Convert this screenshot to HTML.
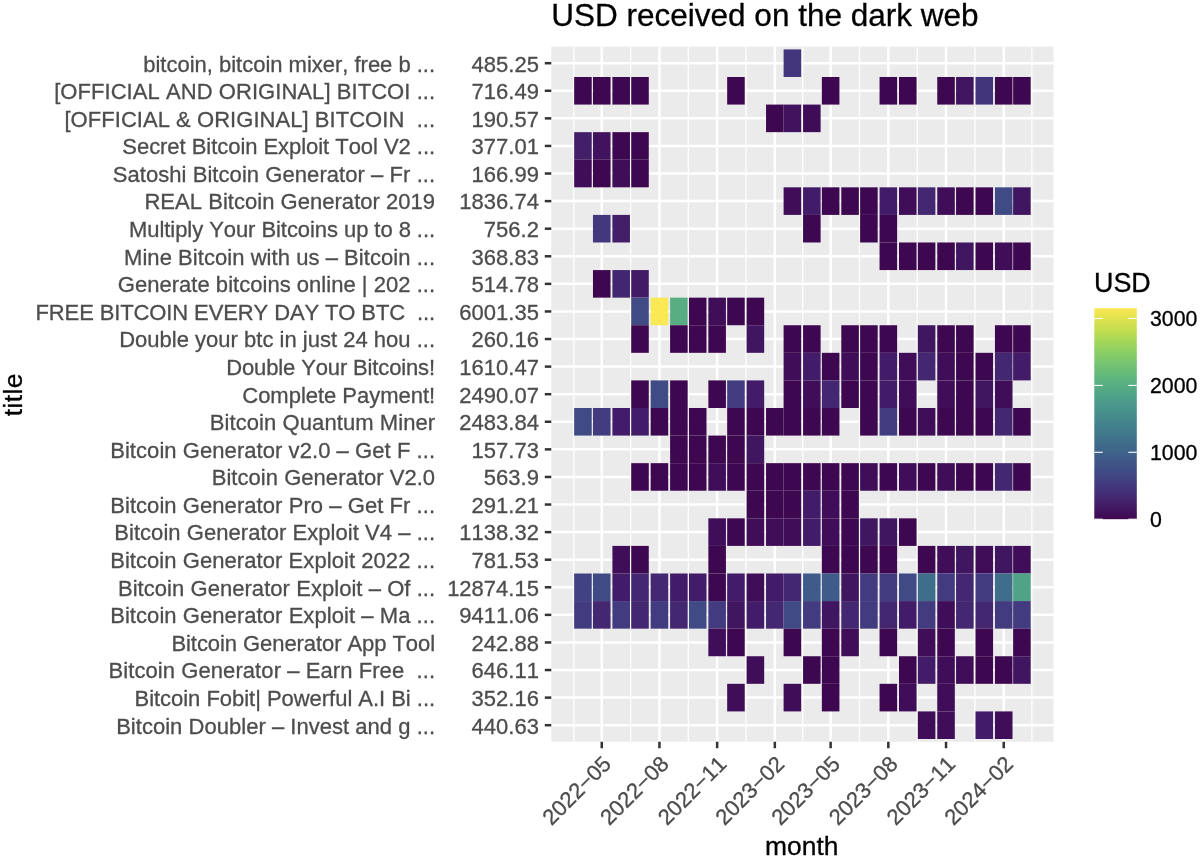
<!DOCTYPE html><html><head><meta charset="utf-8"><title>USD received on the dark web</title>
<style>html,body{margin:0;padding:0;background:#fff}svg{display:block}text{font-family:"Liberation Sans",sans-serif;font-kerning:none;stroke-width:0.3px}</style></head><body>
<svg width="1200" height="859" viewBox="0 0 1200 859">
<rect width="1200" height="859" fill="#fff"/>
<rect x="551.3" y="46.65" width="502.20" height="695.10" fill="#ebebeb"/>
<g stroke="#fff" fill="none">
<line x1="573.84" x2="573.84" y1="46.65" y2="741.75" stroke-width="1.25"/>
<line x1="630.60" x2="630.60" y1="46.65" y2="741.75" stroke-width="1.25"/>
<line x1="688.29" x2="688.29" y1="46.65" y2="741.75" stroke-width="1.25"/>
<line x1="745.98" x2="745.98" y1="46.65" y2="741.75" stroke-width="1.25"/>
<line x1="802.74" x2="802.74" y1="46.65" y2="741.75" stroke-width="1.25"/>
<line x1="859.49" x2="859.49" y1="46.65" y2="741.75" stroke-width="1.25"/>
<line x1="917.18" x2="917.18" y1="46.65" y2="741.75" stroke-width="1.25"/>
<line x1="974.87" x2="974.87" y1="46.65" y2="741.75" stroke-width="1.25"/>
<line x1="1031.94" x2="1031.94" y1="46.65" y2="741.75" stroke-width="1.25"/>
<line x1="601.75" x2="601.75" y1="46.65" y2="741.75" stroke-width="2.5"/>
<line x1="659.44" x2="659.44" y1="46.65" y2="741.75" stroke-width="2.5"/>
<line x1="717.14" x2="717.14" y1="46.65" y2="741.75" stroke-width="2.5"/>
<line x1="774.83" x2="774.83" y1="46.65" y2="741.75" stroke-width="2.5"/>
<line x1="830.64" x2="830.64" y1="46.65" y2="741.75" stroke-width="2.5"/>
<line x1="888.33" x2="888.33" y1="46.65" y2="741.75" stroke-width="2.5"/>
<line x1="946.03" x2="946.03" y1="46.65" y2="741.75" stroke-width="2.5"/>
<line x1="1003.72" x2="1003.72" y1="46.65" y2="741.75" stroke-width="2.5"/>
<line x1="551.3" x2="1053.5" y1="63.20" y2="63.20" stroke-width="2.5"/>
<line x1="551.3" x2="1053.5" y1="90.78" y2="90.78" stroke-width="2.5"/>
<line x1="551.3" x2="1053.5" y1="118.37" y2="118.37" stroke-width="2.5"/>
<line x1="551.3" x2="1053.5" y1="145.95" y2="145.95" stroke-width="2.5"/>
<line x1="551.3" x2="1053.5" y1="173.53" y2="173.53" stroke-width="2.5"/>
<line x1="551.3" x2="1053.5" y1="201.12" y2="201.12" stroke-width="2.5"/>
<line x1="551.3" x2="1053.5" y1="228.70" y2="228.70" stroke-width="2.5"/>
<line x1="551.3" x2="1053.5" y1="256.28" y2="256.28" stroke-width="2.5"/>
<line x1="551.3" x2="1053.5" y1="283.87" y2="283.87" stroke-width="2.5"/>
<line x1="551.3" x2="1053.5" y1="311.45" y2="311.45" stroke-width="2.5"/>
<line x1="551.3" x2="1053.5" y1="339.03" y2="339.03" stroke-width="2.5"/>
<line x1="551.3" x2="1053.5" y1="366.62" y2="366.62" stroke-width="2.5"/>
<line x1="551.3" x2="1053.5" y1="394.20" y2="394.20" stroke-width="2.5"/>
<line x1="551.3" x2="1053.5" y1="421.78" y2="421.78" stroke-width="2.5"/>
<line x1="551.3" x2="1053.5" y1="449.37" y2="449.37" stroke-width="2.5"/>
<line x1="551.3" x2="1053.5" y1="476.95" y2="476.95" stroke-width="2.5"/>
<line x1="551.3" x2="1053.5" y1="504.53" y2="504.53" stroke-width="2.5"/>
<line x1="551.3" x2="1053.5" y1="532.12" y2="532.12" stroke-width="2.5"/>
<line x1="551.3" x2="1053.5" y1="559.70" y2="559.70" stroke-width="2.5"/>
<line x1="551.3" x2="1053.5" y1="587.28" y2="587.28" stroke-width="2.5"/>
<line x1="551.3" x2="1053.5" y1="614.87" y2="614.87" stroke-width="2.5"/>
<line x1="551.3" x2="1053.5" y1="642.45" y2="642.45" stroke-width="2.5"/>
<line x1="551.3" x2="1053.5" y1="670.03" y2="670.03" stroke-width="2.5"/>
<line x1="551.3" x2="1053.5" y1="697.62" y2="697.62" stroke-width="2.5"/>
<line x1="551.3" x2="1053.5" y1="725.20" y2="725.20" stroke-width="2.5"/>
</g>
<g shape-rendering="auto">
<rect x="783.61" y="49.41" width="17.56" height="27.58" fill="#43367c"/>
<rect x="574.16" y="76.99" width="17.56" height="27.58" fill="#3e0851"/>
<rect x="592.97" y="76.99" width="17.56" height="27.58" fill="#3e0851"/>
<rect x="612.41" y="76.99" width="17.56" height="27.58" fill="#3e0851"/>
<rect x="631.22" y="76.99" width="17.56" height="27.58" fill="#3e0851"/>
<rect x="727.17" y="76.99" width="17.56" height="27.58" fill="#3e0851"/>
<rect x="821.86" y="76.99" width="17.56" height="27.58" fill="#3e0851"/>
<rect x="879.56" y="76.99" width="17.56" height="27.58" fill="#3e0851"/>
<rect x="899.00" y="76.99" width="17.56" height="27.58" fill="#3e0851"/>
<rect x="937.25" y="76.99" width="17.56" height="27.58" fill="#3e0851"/>
<rect x="956.06" y="76.99" width="17.56" height="27.58" fill="#41145f"/>
<rect x="975.50" y="76.99" width="17.56" height="27.58" fill="#43357c"/>
<rect x="994.94" y="76.99" width="17.56" height="27.58" fill="#3e0851"/>
<rect x="1013.13" y="76.99" width="17.56" height="27.58" fill="#3e0851"/>
<rect x="766.05" y="104.58" width="17.56" height="27.58" fill="#3e0851"/>
<rect x="783.61" y="104.58" width="17.56" height="27.58" fill="#41135e"/>
<rect x="803.05" y="104.58" width="17.56" height="27.58" fill="#3f0d57"/>
<rect x="574.16" y="132.16" width="17.56" height="27.58" fill="#431f6a"/>
<rect x="592.97" y="132.16" width="17.56" height="27.58" fill="#41135e"/>
<rect x="612.41" y="132.16" width="17.56" height="27.58" fill="#3e0851"/>
<rect x="631.22" y="132.16" width="17.56" height="27.58" fill="#3e0851"/>
<rect x="574.16" y="159.74" width="17.56" height="27.58" fill="#400e58"/>
<rect x="592.97" y="159.74" width="17.56" height="27.58" fill="#3e0851"/>
<rect x="612.41" y="159.74" width="17.56" height="27.58" fill="#400e58"/>
<rect x="631.22" y="159.74" width="17.56" height="27.58" fill="#3e0851"/>
<rect x="783.61" y="187.33" width="17.56" height="27.58" fill="#400e58"/>
<rect x="803.05" y="187.33" width="17.56" height="27.58" fill="#421c68"/>
<rect x="821.86" y="187.33" width="17.56" height="27.58" fill="#3e0851"/>
<rect x="841.30" y="187.33" width="17.56" height="27.58" fill="#3e0851"/>
<rect x="860.12" y="187.33" width="17.56" height="27.58" fill="#3e0851"/>
<rect x="879.56" y="187.33" width="17.56" height="27.58" fill="#421c68"/>
<rect x="899.00" y="187.33" width="17.56" height="27.58" fill="#400e58"/>
<rect x="917.81" y="187.33" width="17.56" height="27.58" fill="#432771"/>
<rect x="937.25" y="187.33" width="17.56" height="27.58" fill="#400e58"/>
<rect x="956.06" y="187.33" width="17.56" height="27.58" fill="#3e0851"/>
<rect x="975.50" y="187.33" width="17.56" height="27.58" fill="#3e0851"/>
<rect x="994.94" y="187.33" width="17.56" height="27.58" fill="#404b85"/>
<rect x="1013.13" y="187.33" width="17.56" height="27.58" fill="#411661"/>
<rect x="592.97" y="214.91" width="17.56" height="27.58" fill="#43377d"/>
<rect x="612.41" y="214.91" width="17.56" height="27.58" fill="#431e69"/>
<rect x="803.05" y="214.91" width="17.56" height="27.58" fill="#3e0851"/>
<rect x="860.12" y="214.91" width="17.56" height="27.58" fill="#3e0851"/>
<rect x="879.56" y="214.91" width="17.56" height="27.58" fill="#3e0851"/>
<rect x="879.56" y="242.49" width="17.56" height="27.58" fill="#3e0851"/>
<rect x="899.00" y="242.49" width="17.56" height="27.58" fill="#3e0851"/>
<rect x="917.81" y="242.49" width="17.56" height="27.58" fill="#3e0851"/>
<rect x="937.25" y="242.49" width="17.56" height="27.58" fill="#3e0851"/>
<rect x="956.06" y="242.49" width="17.56" height="27.58" fill="#411661"/>
<rect x="975.50" y="242.49" width="17.56" height="27.58" fill="#3e0851"/>
<rect x="994.94" y="242.49" width="17.56" height="27.58" fill="#400e58"/>
<rect x="1013.13" y="242.49" width="17.56" height="27.58" fill="#3e0851"/>
<rect x="592.97" y="270.07" width="17.56" height="27.58" fill="#3e0851"/>
<rect x="612.41" y="270.07" width="17.56" height="27.58" fill="#432670"/>
<rect x="631.22" y="270.07" width="17.56" height="27.58" fill="#421a65"/>
<rect x="631.22" y="297.66" width="17.56" height="27.58" fill="#404b85"/>
<rect x="650.66" y="297.66" width="17.56" height="27.58" fill="#fae855"/>
<rect x="670.10" y="297.66" width="17.56" height="27.58" fill="#58ae82"/>
<rect x="688.92" y="297.66" width="17.56" height="27.58" fill="#3e0851"/>
<rect x="708.36" y="297.66" width="17.56" height="27.58" fill="#400e58"/>
<rect x="727.17" y="297.66" width="17.56" height="27.58" fill="#3e0851"/>
<rect x="746.61" y="297.66" width="17.56" height="27.58" fill="#3e0851"/>
<rect x="631.22" y="325.24" width="17.56" height="27.58" fill="#3e0851"/>
<rect x="670.10" y="325.24" width="17.56" height="27.58" fill="#3e0851"/>
<rect x="688.92" y="325.24" width="17.56" height="27.58" fill="#3e0851"/>
<rect x="708.36" y="325.24" width="17.56" height="27.58" fill="#3e0851"/>
<rect x="746.61" y="325.24" width="17.56" height="27.58" fill="#411661"/>
<rect x="783.61" y="325.24" width="17.56" height="27.58" fill="#3e0851"/>
<rect x="803.05" y="325.24" width="17.56" height="27.58" fill="#3e0851"/>
<rect x="841.30" y="325.24" width="17.56" height="27.58" fill="#3e0851"/>
<rect x="860.12" y="325.24" width="17.56" height="27.58" fill="#3e0851"/>
<rect x="879.56" y="325.24" width="17.56" height="27.58" fill="#3e0851"/>
<rect x="917.81" y="325.24" width="17.56" height="27.58" fill="#411661"/>
<rect x="937.25" y="325.24" width="17.56" height="27.58" fill="#3e0851"/>
<rect x="956.06" y="325.24" width="17.56" height="27.58" fill="#3e0851"/>
<rect x="994.94" y="325.24" width="17.56" height="27.58" fill="#3e0851"/>
<rect x="1013.13" y="325.24" width="17.56" height="27.58" fill="#3e0851"/>
<rect x="783.61" y="352.82" width="17.56" height="27.58" fill="#400e58"/>
<rect x="803.05" y="352.82" width="17.56" height="27.58" fill="#421c68"/>
<rect x="821.86" y="352.82" width="17.56" height="27.58" fill="#3e0851"/>
<rect x="841.30" y="352.82" width="17.56" height="27.58" fill="#400e58"/>
<rect x="860.12" y="352.82" width="17.56" height="27.58" fill="#3e0851"/>
<rect x="879.56" y="352.82" width="17.56" height="27.58" fill="#421c68"/>
<rect x="899.00" y="352.82" width="17.56" height="27.58" fill="#400e58"/>
<rect x="917.81" y="352.82" width="17.56" height="27.58" fill="#432771"/>
<rect x="937.25" y="352.82" width="17.56" height="27.58" fill="#400e58"/>
<rect x="956.06" y="352.82" width="17.56" height="27.58" fill="#3e0851"/>
<rect x="975.50" y="352.82" width="17.56" height="27.58" fill="#3e0851"/>
<rect x="994.94" y="352.82" width="17.56" height="27.58" fill="#432771"/>
<rect x="1013.13" y="352.82" width="17.56" height="27.58" fill="#421c68"/>
<rect x="631.22" y="380.41" width="17.56" height="27.58" fill="#3e0851"/>
<rect x="650.66" y="380.41" width="17.56" height="27.58" fill="#404b85"/>
<rect x="670.10" y="380.41" width="17.56" height="27.58" fill="#3e0851"/>
<rect x="708.36" y="380.41" width="17.56" height="27.58" fill="#3e0851"/>
<rect x="727.17" y="380.41" width="17.56" height="27.58" fill="#423b7f"/>
<rect x="746.61" y="380.41" width="17.56" height="27.58" fill="#421c68"/>
<rect x="783.61" y="380.41" width="17.56" height="27.58" fill="#3e0851"/>
<rect x="803.05" y="380.41" width="17.56" height="27.58" fill="#400e58"/>
<rect x="821.86" y="380.41" width="17.56" height="27.58" fill="#432771"/>
<rect x="841.30" y="380.41" width="17.56" height="27.58" fill="#3e0851"/>
<rect x="860.12" y="380.41" width="17.56" height="27.58" fill="#3e0851"/>
<rect x="879.56" y="380.41" width="17.56" height="27.58" fill="#421c68"/>
<rect x="899.00" y="380.41" width="17.56" height="27.58" fill="#400e58"/>
<rect x="937.25" y="380.41" width="17.56" height="27.58" fill="#400e58"/>
<rect x="956.06" y="380.41" width="17.56" height="27.58" fill="#3e0851"/>
<rect x="975.50" y="380.41" width="17.56" height="27.58" fill="#411661"/>
<rect x="994.94" y="380.41" width="17.56" height="27.58" fill="#400e58"/>
<rect x="574.16" y="407.99" width="17.56" height="27.58" fill="#404b85"/>
<rect x="592.97" y="407.99" width="17.56" height="27.58" fill="#423b7f"/>
<rect x="612.41" y="407.99" width="17.56" height="27.58" fill="#421c68"/>
<rect x="631.22" y="407.99" width="17.56" height="27.58" fill="#421c68"/>
<rect x="650.66" y="407.99" width="17.56" height="27.58" fill="#3e0851"/>
<rect x="670.10" y="407.99" width="17.56" height="27.58" fill="#3e0851"/>
<rect x="688.92" y="407.99" width="17.56" height="27.58" fill="#3e0851"/>
<rect x="727.17" y="407.99" width="17.56" height="27.58" fill="#3e0851"/>
<rect x="746.61" y="407.99" width="17.56" height="27.58" fill="#3e0851"/>
<rect x="766.05" y="407.99" width="17.56" height="27.58" fill="#3e0851"/>
<rect x="783.61" y="407.99" width="17.56" height="27.58" fill="#3e0851"/>
<rect x="803.05" y="407.99" width="17.56" height="27.58" fill="#3e0851"/>
<rect x="821.86" y="407.99" width="17.56" height="27.58" fill="#3e0851"/>
<rect x="860.12" y="407.99" width="17.56" height="27.58" fill="#3e0851"/>
<rect x="879.56" y="407.99" width="17.56" height="27.58" fill="#423b7f"/>
<rect x="899.00" y="407.99" width="17.56" height="27.58" fill="#3e0851"/>
<rect x="917.81" y="407.99" width="17.56" height="27.58" fill="#400e58"/>
<rect x="937.25" y="407.99" width="17.56" height="27.58" fill="#3e0851"/>
<rect x="956.06" y="407.99" width="17.56" height="27.58" fill="#3e0851"/>
<rect x="975.50" y="407.99" width="17.56" height="27.58" fill="#3e0851"/>
<rect x="994.94" y="407.99" width="17.56" height="27.58" fill="#432771"/>
<rect x="1013.13" y="407.99" width="17.56" height="27.58" fill="#3e0851"/>
<rect x="670.10" y="435.57" width="17.56" height="27.58" fill="#3e0851"/>
<rect x="688.92" y="435.57" width="17.56" height="27.58" fill="#3e0851"/>
<rect x="708.36" y="435.57" width="17.56" height="27.58" fill="#3e0851"/>
<rect x="727.17" y="435.57" width="17.56" height="27.58" fill="#3e0851"/>
<rect x="746.61" y="435.57" width="17.56" height="27.58" fill="#411661"/>
<rect x="631.22" y="463.16" width="17.56" height="27.58" fill="#3e0851"/>
<rect x="650.66" y="463.16" width="17.56" height="27.58" fill="#3e0851"/>
<rect x="670.10" y="463.16" width="17.56" height="27.58" fill="#3e0851"/>
<rect x="688.92" y="463.16" width="17.56" height="27.58" fill="#3e0851"/>
<rect x="708.36" y="463.16" width="17.56" height="27.58" fill="#400e58"/>
<rect x="727.17" y="463.16" width="17.56" height="27.58" fill="#3e0851"/>
<rect x="746.61" y="463.16" width="17.56" height="27.58" fill="#3e0851"/>
<rect x="766.05" y="463.16" width="17.56" height="27.58" fill="#3e0851"/>
<rect x="783.61" y="463.16" width="17.56" height="27.58" fill="#3e0851"/>
<rect x="803.05" y="463.16" width="17.56" height="27.58" fill="#3e0851"/>
<rect x="821.86" y="463.16" width="17.56" height="27.58" fill="#3e0851"/>
<rect x="841.30" y="463.16" width="17.56" height="27.58" fill="#3e0851"/>
<rect x="860.12" y="463.16" width="17.56" height="27.58" fill="#400e58"/>
<rect x="879.56" y="463.16" width="17.56" height="27.58" fill="#3e0851"/>
<rect x="899.00" y="463.16" width="17.56" height="27.58" fill="#400e58"/>
<rect x="917.81" y="463.16" width="17.56" height="27.58" fill="#3e0851"/>
<rect x="937.25" y="463.16" width="17.56" height="27.58" fill="#400e58"/>
<rect x="956.06" y="463.16" width="17.56" height="27.58" fill="#3e0851"/>
<rect x="975.50" y="463.16" width="17.56" height="27.58" fill="#3e0851"/>
<rect x="994.94" y="463.16" width="17.56" height="27.58" fill="#432771"/>
<rect x="1013.13" y="463.16" width="17.56" height="27.58" fill="#3e0851"/>
<rect x="746.61" y="490.74" width="17.56" height="27.58" fill="#3e0851"/>
<rect x="766.05" y="490.74" width="17.56" height="27.58" fill="#3e0851"/>
<rect x="783.61" y="490.74" width="17.56" height="27.58" fill="#3e0851"/>
<rect x="803.05" y="490.74" width="17.56" height="27.58" fill="#421c68"/>
<rect x="821.86" y="490.74" width="17.56" height="27.58" fill="#400e58"/>
<rect x="841.30" y="490.74" width="17.56" height="27.58" fill="#3e0851"/>
<rect x="708.36" y="518.33" width="17.56" height="27.58" fill="#400e58"/>
<rect x="727.17" y="518.33" width="17.56" height="27.58" fill="#3e0851"/>
<rect x="746.61" y="518.33" width="17.56" height="27.58" fill="#400e58"/>
<rect x="766.05" y="518.33" width="17.56" height="27.58" fill="#400e58"/>
<rect x="783.61" y="518.33" width="17.56" height="27.58" fill="#400e58"/>
<rect x="803.05" y="518.33" width="17.56" height="27.58" fill="#421c68"/>
<rect x="821.86" y="518.33" width="17.56" height="27.58" fill="#400e58"/>
<rect x="841.30" y="518.33" width="17.56" height="27.58" fill="#3e0851"/>
<rect x="860.12" y="518.33" width="17.56" height="27.58" fill="#411661"/>
<rect x="879.56" y="518.33" width="17.56" height="27.58" fill="#411661"/>
<rect x="899.00" y="518.33" width="17.56" height="27.58" fill="#3e0851"/>
<rect x="612.41" y="545.91" width="17.56" height="27.58" fill="#400e58"/>
<rect x="631.22" y="545.91" width="17.56" height="27.58" fill="#3e0851"/>
<rect x="708.36" y="545.91" width="17.56" height="27.58" fill="#3e0851"/>
<rect x="821.86" y="545.91" width="17.56" height="27.58" fill="#3e0851"/>
<rect x="841.30" y="545.91" width="17.56" height="27.58" fill="#3e0851"/>
<rect x="860.12" y="545.91" width="17.56" height="27.58" fill="#3e0851"/>
<rect x="879.56" y="545.91" width="17.56" height="27.58" fill="#3e0851"/>
<rect x="917.81" y="545.91" width="17.56" height="27.58" fill="#3e0851"/>
<rect x="937.25" y="545.91" width="17.56" height="27.58" fill="#400e58"/>
<rect x="956.06" y="545.91" width="17.56" height="27.58" fill="#411661"/>
<rect x="975.50" y="545.91" width="17.56" height="27.58" fill="#400e58"/>
<rect x="994.94" y="545.91" width="17.56" height="27.58" fill="#411661"/>
<rect x="1013.13" y="545.91" width="17.56" height="27.58" fill="#400e58"/>
<rect x="574.16" y="573.49" width="17.56" height="27.58" fill="#414282"/>
<rect x="592.97" y="573.49" width="17.56" height="27.58" fill="#404b85"/>
<rect x="612.41" y="573.49" width="17.56" height="27.58" fill="#421c68"/>
<rect x="631.22" y="573.49" width="17.56" height="27.58" fill="#432771"/>
<rect x="650.66" y="573.49" width="17.56" height="27.58" fill="#432771"/>
<rect x="670.10" y="573.49" width="17.56" height="27.58" fill="#421c68"/>
<rect x="688.92" y="573.49" width="17.56" height="27.58" fill="#421c68"/>
<rect x="708.36" y="573.49" width="17.56" height="27.58" fill="#3e0851"/>
<rect x="727.17" y="573.49" width="17.56" height="27.58" fill="#421c68"/>
<rect x="746.61" y="573.49" width="17.56" height="27.58" fill="#400e58"/>
<rect x="766.05" y="573.49" width="17.56" height="27.58" fill="#421c68"/>
<rect x="783.61" y="573.49" width="17.56" height="27.58" fill="#432771"/>
<rect x="803.05" y="573.49" width="17.56" height="27.58" fill="#3f5b89"/>
<rect x="821.86" y="573.49" width="17.56" height="27.58" fill="#3f5b89"/>
<rect x="841.30" y="573.49" width="17.56" height="27.58" fill="#411661"/>
<rect x="860.12" y="573.49" width="17.56" height="27.58" fill="#423b7f"/>
<rect x="879.56" y="573.49" width="17.56" height="27.58" fill="#423b7f"/>
<rect x="899.00" y="573.49" width="17.56" height="27.58" fill="#404b85"/>
<rect x="917.81" y="573.49" width="17.56" height="27.58" fill="#3f6e8b"/>
<rect x="937.25" y="573.49" width="17.56" height="27.58" fill="#423b7f"/>
<rect x="956.06" y="573.49" width="17.56" height="27.58" fill="#432771"/>
<rect x="975.50" y="573.49" width="17.56" height="27.58" fill="#423b7f"/>
<rect x="994.94" y="573.49" width="17.56" height="27.58" fill="#3f6e8b"/>
<rect x="1013.13" y="573.49" width="17.56" height="27.58" fill="#50a387"/>
<rect x="574.16" y="601.08" width="17.56" height="27.58" fill="#423b7f"/>
<rect x="592.97" y="601.08" width="17.56" height="27.58" fill="#432771"/>
<rect x="612.41" y="601.08" width="17.56" height="27.58" fill="#423b7f"/>
<rect x="631.22" y="601.08" width="17.56" height="27.58" fill="#432771"/>
<rect x="650.66" y="601.08" width="17.56" height="27.58" fill="#423b7f"/>
<rect x="670.10" y="601.08" width="17.56" height="27.58" fill="#432771"/>
<rect x="688.92" y="601.08" width="17.56" height="27.58" fill="#404b85"/>
<rect x="708.36" y="601.08" width="17.56" height="27.58" fill="#423b7f"/>
<rect x="727.17" y="601.08" width="17.56" height="27.58" fill="#411661"/>
<rect x="746.61" y="601.08" width="17.56" height="27.58" fill="#421c68"/>
<rect x="766.05" y="601.08" width="17.56" height="27.58" fill="#432771"/>
<rect x="783.61" y="601.08" width="17.56" height="27.58" fill="#404b85"/>
<rect x="803.05" y="601.08" width="17.56" height="27.58" fill="#423b7f"/>
<rect x="821.86" y="601.08" width="17.56" height="27.58" fill="#411661"/>
<rect x="841.30" y="601.08" width="17.56" height="27.58" fill="#432771"/>
<rect x="860.12" y="601.08" width="17.56" height="27.58" fill="#423b7f"/>
<rect x="879.56" y="601.08" width="17.56" height="27.58" fill="#432771"/>
<rect x="899.00" y="601.08" width="17.56" height="27.58" fill="#421c68"/>
<rect x="917.81" y="601.08" width="17.56" height="27.58" fill="#423b7f"/>
<rect x="937.25" y="601.08" width="17.56" height="27.58" fill="#400e58"/>
<rect x="956.06" y="601.08" width="17.56" height="27.58" fill="#432771"/>
<rect x="975.50" y="601.08" width="17.56" height="27.58" fill="#432771"/>
<rect x="994.94" y="601.08" width="17.56" height="27.58" fill="#423b7f"/>
<rect x="1013.13" y="601.08" width="17.56" height="27.58" fill="#423b7f"/>
<rect x="708.36" y="628.66" width="17.56" height="27.58" fill="#400e58"/>
<rect x="727.17" y="628.66" width="17.56" height="27.58" fill="#3e0851"/>
<rect x="783.61" y="628.66" width="17.56" height="27.58" fill="#3e0851"/>
<rect x="821.86" y="628.66" width="17.56" height="27.58" fill="#3e0851"/>
<rect x="841.30" y="628.66" width="17.56" height="27.58" fill="#400e58"/>
<rect x="879.56" y="628.66" width="17.56" height="27.58" fill="#3e0851"/>
<rect x="917.81" y="628.66" width="17.56" height="27.58" fill="#400e58"/>
<rect x="937.25" y="628.66" width="17.56" height="27.58" fill="#3e0851"/>
<rect x="975.50" y="628.66" width="17.56" height="27.58" fill="#3e0851"/>
<rect x="1013.13" y="628.66" width="17.56" height="27.58" fill="#3e0851"/>
<rect x="746.61" y="656.24" width="17.56" height="27.58" fill="#400e58"/>
<rect x="803.05" y="656.24" width="17.56" height="27.58" fill="#3e0851"/>
<rect x="821.86" y="656.24" width="17.56" height="27.58" fill="#3e0851"/>
<rect x="899.00" y="656.24" width="17.56" height="27.58" fill="#3e0851"/>
<rect x="917.81" y="656.24" width="17.56" height="27.58" fill="#421c68"/>
<rect x="937.25" y="656.24" width="17.56" height="27.58" fill="#400e58"/>
<rect x="956.06" y="656.24" width="17.56" height="27.58" fill="#400e58"/>
<rect x="975.50" y="656.24" width="17.56" height="27.58" fill="#3e0851"/>
<rect x="994.94" y="656.24" width="17.56" height="27.58" fill="#3e0851"/>
<rect x="1013.13" y="656.24" width="17.56" height="27.58" fill="#411661"/>
<rect x="727.17" y="683.83" width="17.56" height="27.58" fill="#400e58"/>
<rect x="783.61" y="683.83" width="17.56" height="27.58" fill="#400e58"/>
<rect x="821.86" y="683.83" width="17.56" height="27.58" fill="#3e0851"/>
<rect x="879.56" y="683.83" width="17.56" height="27.58" fill="#3e0851"/>
<rect x="899.00" y="683.83" width="17.56" height="27.58" fill="#400e58"/>
<rect x="937.25" y="683.83" width="17.56" height="27.58" fill="#400e58"/>
<rect x="917.81" y="711.41" width="17.56" height="27.58" fill="#400e58"/>
<rect x="937.25" y="711.41" width="17.56" height="27.58" fill="#400e58"/>
<rect x="975.50" y="711.41" width="17.56" height="27.58" fill="#421c68"/>
<rect x="994.94" y="711.41" width="17.56" height="27.58" fill="#400e58"/>
</g>
<g stroke="#333" stroke-width="2.5">
<line x1="544.80" x2="551.3" y1="63.20" y2="63.20"/>
<line x1="544.80" x2="551.3" y1="90.78" y2="90.78"/>
<line x1="544.80" x2="551.3" y1="118.37" y2="118.37"/>
<line x1="544.80" x2="551.3" y1="145.95" y2="145.95"/>
<line x1="544.80" x2="551.3" y1="173.53" y2="173.53"/>
<line x1="544.80" x2="551.3" y1="201.12" y2="201.12"/>
<line x1="544.80" x2="551.3" y1="228.70" y2="228.70"/>
<line x1="544.80" x2="551.3" y1="256.28" y2="256.28"/>
<line x1="544.80" x2="551.3" y1="283.87" y2="283.87"/>
<line x1="544.80" x2="551.3" y1="311.45" y2="311.45"/>
<line x1="544.80" x2="551.3" y1="339.03" y2="339.03"/>
<line x1="544.80" x2="551.3" y1="366.62" y2="366.62"/>
<line x1="544.80" x2="551.3" y1="394.20" y2="394.20"/>
<line x1="544.80" x2="551.3" y1="421.78" y2="421.78"/>
<line x1="544.80" x2="551.3" y1="449.37" y2="449.37"/>
<line x1="544.80" x2="551.3" y1="476.95" y2="476.95"/>
<line x1="544.80" x2="551.3" y1="504.53" y2="504.53"/>
<line x1="544.80" x2="551.3" y1="532.12" y2="532.12"/>
<line x1="544.80" x2="551.3" y1="559.70" y2="559.70"/>
<line x1="544.80" x2="551.3" y1="587.28" y2="587.28"/>
<line x1="544.80" x2="551.3" y1="614.87" y2="614.87"/>
<line x1="544.80" x2="551.3" y1="642.45" y2="642.45"/>
<line x1="544.80" x2="551.3" y1="670.03" y2="670.03"/>
<line x1="544.80" x2="551.3" y1="697.62" y2="697.62"/>
<line x1="544.80" x2="551.3" y1="725.20" y2="725.20"/>
<line x1="601.75" x2="601.75" y1="741.75" y2="748.25"/>
<line x1="659.44" x2="659.44" y1="741.75" y2="748.25"/>
<line x1="717.14" x2="717.14" y1="741.75" y2="748.25"/>
<line x1="774.83" x2="774.83" y1="741.75" y2="748.25"/>
<line x1="830.64" x2="830.64" y1="741.75" y2="748.25"/>
<line x1="888.33" x2="888.33" y1="741.75" y2="748.25"/>
<line x1="946.03" x2="946.03" y1="741.75" y2="748.25"/>
<line x1="1003.72" x2="1003.72" y1="741.75" y2="748.25"/>
</g>
<g font-size="22" fill="#4d4d4d" stroke="#4d4d4d" text-anchor="end">
<text class="yl" x="435.1" y="71.50" textLength="291.83" lengthAdjust="spacing" xml:space="preserve">bitcoin, bitcoin mixer, free b ...</text>
<text x="538.9" y="71.50">485.25</text>
<text class="yl" x="435.1" y="99.08" textLength="380.95" lengthAdjust="spacing" xml:space="preserve">[OFFICIAL AND ORIGINAL] BITCOI ...</text>
<text x="538.9" y="99.08">716.49</text>
<text class="yl" x="435.1" y="126.67" textLength="370.67" lengthAdjust="spacing" xml:space="preserve">[OFFICIAL &amp; ORIGINAL] BITCOIN  ...</text>
<text x="538.9" y="126.67">190.57</text>
<text class="yl" x="435.1" y="154.25" textLength="312.77" lengthAdjust="spacing" xml:space="preserve">Secret Bitcoin Exploit Tool V2 ...</text>
<text x="538.9" y="154.25">377.01</text>
<text class="yl" x="435.1" y="181.83" textLength="322.38" lengthAdjust="spacing" xml:space="preserve">Satoshi Bitcoin Generator – Fr ...</text>
<text x="538.9" y="181.83">166.99</text>
<text class="yl" x="435.1" y="209.42" textLength="290.64" lengthAdjust="spacing" xml:space="preserve">REAL Bitcoin Generator 2019</text>
<text x="538.9" y="209.42">1836.74</text>
<text class="yl" x="435.1" y="237.00" textLength="306.04" lengthAdjust="spacing" xml:space="preserve">Multiply Your Bitcoins up to 8 ...</text>
<text x="538.9" y="237.00">756.2</text>
<text class="yl" x="435.1" y="264.58" textLength="311.06" lengthAdjust="spacing" xml:space="preserve">Mine Bitcoin with us – Bitcoin ...</text>
<text x="538.9" y="264.58">368.83</text>
<text class="yl" x="435.1" y="292.17" textLength="317.36" lengthAdjust="spacing" xml:space="preserve">Generate bitcoins online | 202 ...</text>
<text x="538.9" y="292.17">514.78</text>
<text class="yl" x="435.1" y="319.75" textLength="399.59" lengthAdjust="spacing" xml:space="preserve">FREE BITCOIN EVERY DAY TO BTC  ...</text>
<text x="538.9" y="319.75">6001.35</text>
<text class="yl" x="435.1" y="347.33" textLength="315.93" lengthAdjust="spacing" xml:space="preserve">Double your btc in just 24 hou ...</text>
<text x="538.9" y="347.33">260.16</text>
<text class="yl" x="435.1" y="374.92" textLength="208.86" lengthAdjust="spacing" xml:space="preserve">Double Your Bitcoins!</text>
<text x="538.9" y="374.92">1610.47</text>
<text class="yl" x="435.1" y="402.50" textLength="192.80" lengthAdjust="spacing" xml:space="preserve">Complete Payment!</text>
<text x="538.9" y="402.50">2490.07</text>
<text class="yl" x="435.1" y="430.08" textLength="225.27" lengthAdjust="spacing" xml:space="preserve">Bitcoin Quantum Miner</text>
<text x="538.9" y="430.08">2483.84</text>
<text class="yl" x="435.1" y="457.67" textLength="324.93" lengthAdjust="spacing" xml:space="preserve">Bitcoin Generator v2.0 – Get F ...</text>
<text x="538.9" y="457.67">157.73</text>
<text class="yl" x="435.1" y="485.25" textLength="223.38" lengthAdjust="spacing" xml:space="preserve">Bitcoin Generator V2.0</text>
<text x="538.9" y="485.25">563.9</text>
<text class="yl" x="435.1" y="512.83" textLength="324.90" lengthAdjust="spacing" xml:space="preserve">Bitcoin Generator Pro – Get Fr ...</text>
<text x="538.9" y="512.83">291.21</text>
<text class="yl" x="435.1" y="540.42" textLength="320.87" lengthAdjust="spacing" xml:space="preserve">Bitcoin Generator Exploit V4 – ...</text>
<text x="538.9" y="540.42">1138.32</text>
<text class="yl" x="435.1" y="568.00" textLength="324.96" lengthAdjust="spacing" xml:space="preserve">Bitcoin Generator Exploit 2022 ...</text>
<text x="538.9" y="568.00">781.53</text>
<text class="yl" x="435.1" y="595.58" textLength="317.18" lengthAdjust="spacing" xml:space="preserve">Bitcoin Generator Exploit – Of ...</text>
<text x="538.9" y="595.58">12874.15</text>
<text class="yl" x="435.1" y="623.17" textLength="324.93" lengthAdjust="spacing" xml:space="preserve">Bitcoin Generator Exploit – Ma ...</text>
<text x="538.9" y="623.17">9411.06</text>
<text class="yl" x="435.1" y="650.75" textLength="263.68" lengthAdjust="spacing" xml:space="preserve">Bitcoin Generator App Tool</text>
<text x="538.9" y="650.75">242.88</text>
<text class="yl" x="435.1" y="678.33" textLength="326.55" lengthAdjust="spacing" xml:space="preserve">Bitcoin Generator – Earn Free  ...</text>
<text x="538.9" y="678.33">646.11</text>
<text class="yl" x="435.1" y="705.92" textLength="300.61" lengthAdjust="spacing" xml:space="preserve">Bitcoin Fobit| Powerful A.I Bi ...</text>
<text x="538.9" y="705.92">352.16</text>
<text class="yl" x="435.1" y="733.50" textLength="318.97" lengthAdjust="spacing" xml:space="preserve">Bitcoin Doubler – Invest and g ...</text>
<text x="538.9" y="733.50">440.63</text>
</g>
<g font-size="22" fill="#4d4d4d" stroke="#4d4d4d" text-anchor="end">
<text transform="translate(601.35,754.15) rotate(-45)" x="0" y="15.75">2022−05</text>
<text transform="translate(659.04,754.15) rotate(-45)" x="0" y="15.75">2022−08</text>
<text transform="translate(716.74,754.15) rotate(-45)" x="0" y="15.75">2022−11</text>
<text transform="translate(774.43,754.15) rotate(-45)" x="0" y="15.75">2023−02</text>
<text transform="translate(830.24,754.15) rotate(-45)" x="0" y="15.75">2023−05</text>
<text transform="translate(887.93,754.15) rotate(-45)" x="0" y="15.75">2023−08</text>
<text transform="translate(945.63,754.15) rotate(-45)" x="0" y="15.75">2023−11</text>
<text transform="translate(1003.32,754.15) rotate(-45)" x="0" y="15.75">2024−02</text>
</g>
 <text x="551.3" y="26" font-size="31.5" fill="#000" stroke="#000">USD received on the dark web</text>
 <text x="801.8" y="854.9" font-size="26.4" fill="#000" stroke="#000" text-anchor="middle">month</text>
<text transform="translate(22.3,394.7) rotate(-90)" font-size="26.5" letter-spacing="0.4" fill="#000" stroke="#000" text-anchor="middle">title</text>
<defs><linearGradient id="vir" x1="0" y1="1" x2="0" y2="0">
<stop offset="0.0" stop-color="#3e0851"/>
<stop offset="0.025" stop-color="#400f59"/>
<stop offset="0.05" stop-color="#411661"/>
<stop offset="0.075" stop-color="#431f6a"/>
<stop offset="0.1" stop-color="#432670"/>
<stop offset="0.125" stop-color="#432e77"/>
<stop offset="0.15" stop-color="#43357c"/>
<stop offset="0.175" stop-color="#423c7f"/>
<stop offset="0.2" stop-color="#414483"/>
<stop offset="0.225" stop-color="#404a85"/>
<stop offset="0.25" stop-color="#405287"/>
<stop offset="0.275" stop-color="#3f5888"/>
<stop offset="0.3" stop-color="#3f5e89"/>
<stop offset="0.325" stop-color="#3f658a"/>
<stop offset="0.35" stop-color="#3f6a8b"/>
<stop offset="0.375" stop-color="#40718b"/>
<stop offset="0.4" stop-color="#41778c"/>
<stop offset="0.425" stop-color="#427c8c"/>
<stop offset="0.45" stop-color="#43828c"/>
<stop offset="0.475" stop-color="#45888c"/>
<stop offset="0.5" stop-color="#468e8c"/>
<stop offset="0.525" stop-color="#48948b"/>
<stop offset="0.55" stop-color="#4b9a8a"/>
<stop offset="0.575" stop-color="#4ea088"/>
<stop offset="0.6" stop-color="#51a686"/>
<stop offset="0.625" stop-color="#56ac83"/>
<stop offset="0.65" stop-color="#5bb180"/>
<stop offset="0.675" stop-color="#61b67d"/>
<stop offset="0.7" stop-color="#69bc78"/>
<stop offset="0.725" stop-color="#70c173"/>
<stop offset="0.75" stop-color="#7ac76e"/>
<stop offset="0.775" stop-color="#84cb68"/>
<stop offset="0.8" stop-color="#8fcf63"/>
<stop offset="0.825" stop-color="#9cd45d"/>
<stop offset="0.85" stop-color="#a8d758"/>
<stop offset="0.875" stop-color="#b7db53"/>
<stop offset="0.9" stop-color="#c4de50"/>
<stop offset="0.925" stop-color="#d1e04e"/>
<stop offset="0.95" stop-color="#e0e34e"/>
<stop offset="0.975" stop-color="#ede551"/>
<stop offset="1.0" stop-color="#fae855"/>
</linearGradient></defs>
<rect x="1094.3" y="308.2" width="42.50" height="211.00" fill="url(#vir)"/>
<g stroke="#fff" stroke-width="1.1">
<line x1="1094.3" x2="1102.8" y1="519.20" y2="519.20"/>
<line x1="1128.3" x2="1136.8" y1="519.20" y2="519.20"/>
<line x1="1094.3" x2="1102.8" y1="452.30" y2="452.30"/>
<line x1="1128.3" x2="1136.8" y1="452.30" y2="452.30"/>
<line x1="1094.3" x2="1102.8" y1="385.40" y2="385.40"/>
<line x1="1128.3" x2="1136.8" y1="385.40" y2="385.40"/>
<line x1="1094.3" x2="1102.8" y1="318.50" y2="318.50"/>
<line x1="1128.3" x2="1136.8" y1="318.50" y2="318.50"/>
</g>
<g font-size="21.3" fill="#000" stroke="#000">
<text x="1150" y="526.95">0</text>
<text x="1150" y="460.05">1000</text>
<text x="1150" y="393.15">2000</text>
<text x="1150" y="326.25">3000</text>
</g>
<text x="1094" y="291.8" font-size="26.9" fill="#000" stroke="#000">USD</text>
</svg></body></html>
